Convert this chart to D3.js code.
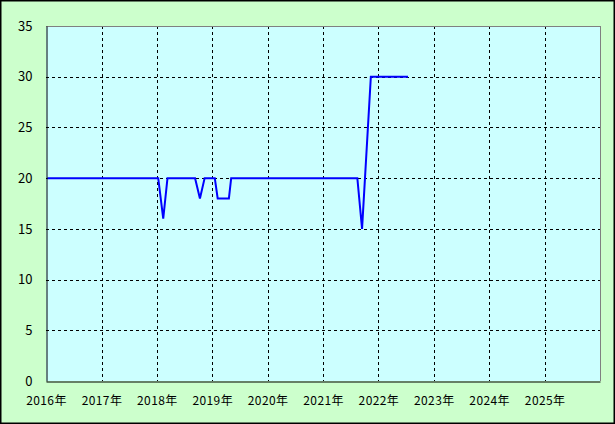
<!DOCTYPE html>
<html><head><meta charset="utf-8">
<script src="https://cdn.jsdelivr.net/npm/d3@7"></script>
<style>
html,body{margin:0;padding:0;background:#fff;}
svg{display:block;}
text{font-family:"Noto Sans CJK JP","DejaVu Sans",sans-serif;font-size:12px;fill:#000;}
</style></head>
<body>
<svg id="chart" width="615" height="424"></svg>
<script>
const dates = ["2016-01-10","2018-01-10","2018-02-12","2018-03-12","2018-09-10","2018-10-12","2018-11-12",
  "2019-01-18","2019-02-06","2019-04-21","2019-05-06","2021-08-15","2021-09-15","2021-11-12","2022-07-15"];
const values = [20,20,16,20,20,18,20,20,18,18,20,20,15,30,30];
const yTicks = [0,5,10,15,20,25,30,35];
const xTickYears = [2016,2017,2018,2019,2020,2021,2022,2023,2024,2025];

const svg = d3.select("#chart");
const W = 615, H = 424;
const m = {left:46, top:26, right:600, bottom:381};

svg.append("rect").attr("x",0.75).attr("y",0.75).attr("width",W-1.5).attr("height",H-1.5)
  .attr("fill","#ccffcc").attr("stroke","#000").attr("stroke-width",1.5);

const parse = d3.timeParse("%Y-%m-%d");
const x = d3.scaleTime().domain([new Date(2016,0,1), new Date(2026,0,1)]).range([m.left, m.right]);
const y = d3.scaleLinear().domain([0,35]).range([m.bottom, m.top]);

svg.append("rect").attr("x",m.left).attr("y",m.top).attr("width",m.right-m.left).attr("height",m.bottom-m.top)
  .attr("fill","#ccffff");

// grid
const g = svg.append("g");
g.selectAll("line.h").data(yTicks.filter(v=>v>0 && v<35)).enter().append("line")
  .attr("x1",m.left).attr("x2",m.right)
  .attr("y1",d=>Math.round(y(d))+0.5).attr("y2",d=>Math.round(y(d))+0.5)
  .attr("stroke","#000").attr("stroke-dasharray","3,3");
g.selectAll("line.v").data(xTickYears.filter(v=>v>2016)).enter().append("line")
  .attr("x1",d=>Math.round(x(new Date(d,0,1)))+0.5).attr("x2",d=>Math.round(x(new Date(d,0,1)))+0.5)
  .attr("y1",m.top).attr("y2",m.bottom)
  .attr("stroke","#000").attr("stroke-dasharray","3,3");

// frame: top/right gray, left/bottom black
svg.append("line").attr("x1",m.left).attr("x2",m.right+0.5).attr("y1",m.top+0.5).attr("y2",m.top+0.5).attr("stroke","#808080");
svg.append("line").attr("x1",m.right+0.5).attr("x2",m.right+0.5).attr("y1",m.top).attr("y2",m.bottom).attr("stroke","#808080");

// line
const line = d3.line().x((d,i)=>x(parse(dates[i]))).y(d=>y(d));
svg.append("path").datum(values).attr("d",line).attr("fill","none")
  .attr("stroke","#0000ff").attr("stroke-width",2);

// axes
const yAxis = d3.axisLeft(y).tickValues(yTicks).tickSize(0).tickPadding(14);
const ya = svg.append("g").attr("transform",`translate(${m.left+0.5},0)`).call(yAxis);
ya.select(".domain").attr("stroke","#000");
ya.selectAll("text").style("font-size","13px");

const xAxis = d3.axisBottom(x).tickValues(xTickYears.map(v=>new Date(v,0,1)))
  .tickFormat(d=>d.getFullYear()+"年").tickSize(0).tickPadding(15);
const xa = svg.append("g").attr("transform",`translate(0,${m.bottom+0.5})`).call(xAxis);
xa.select(".domain").attr("stroke","#000");
xa.selectAll("text").style("font-size","12px").attr("letter-spacing","0.4px");
</script>
</body></html>
